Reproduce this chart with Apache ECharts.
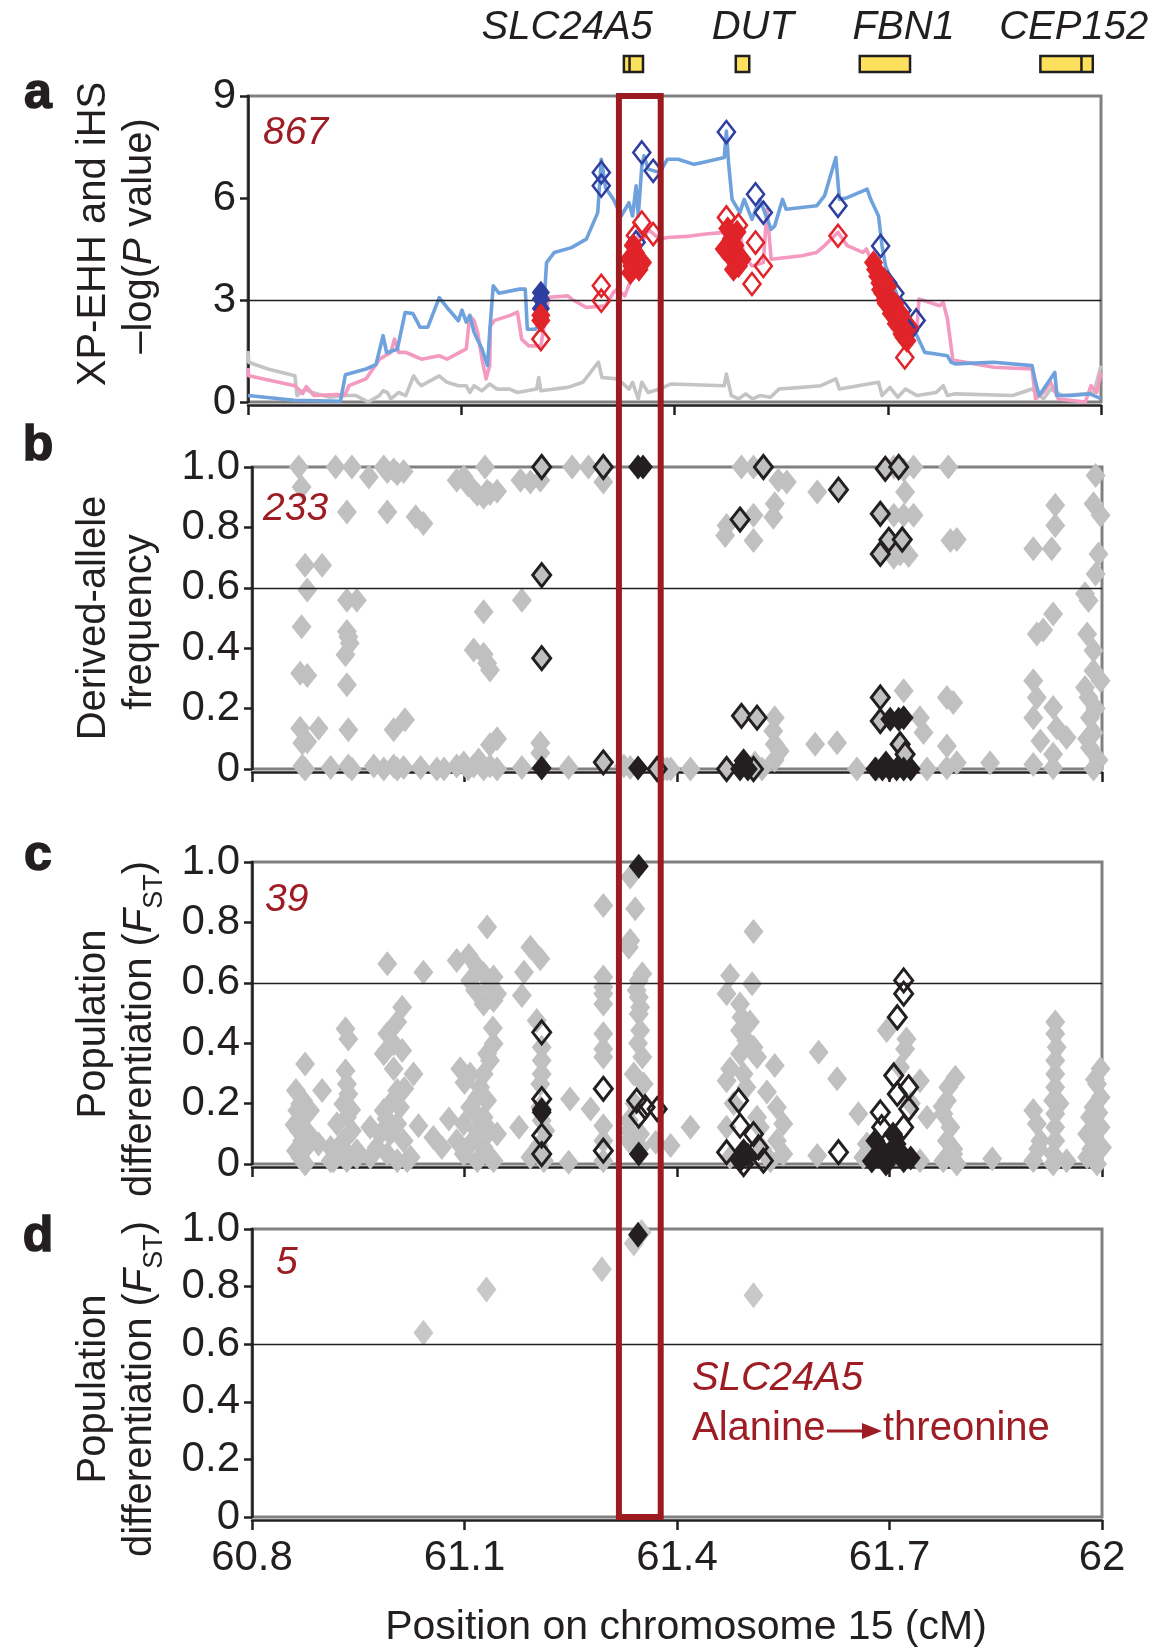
<!DOCTYPE html>
<html><head><meta charset="utf-8">
<script src="https://cdn.jsdelivr.net/npm/echarts@6/dist/echarts.min.js"></script>
<style>html,body{margin:0;padding:0;background:#fff}#c{width:1170px;height:1647px}</style>
</head><body><div id="c"></div>
<script>
const FONT = '"Liberation Sans", Arial, Helvetica, sans-serif';
const INK = '#231f20';
const DARKRED = '#9e1c23';

// ---- x range / ticks (cM) ----
const xMin = 60.8, xMax = 62, xStep = 0.3;
const highlightRange = [61.318, 61.377];

// ---- gene track ----
const geneNames = ['SLC24A5', 'DUT', 'FBN1', 'CEP152'];
const geneStart = [61.325, 61.483, 61.658, 61.913];
const geneEnd = [61.352, 61.502, 61.729, 61.987];
const geneDivider = [61.333, null, null, 61.971];
const geneLabelAt = [61.245, 61.507, 61.72, 61.96];

// ---- panel a: XP-EHH / iHS -log(P) ----
const blueLine = [[60.80,0.19],[60.865,0.05],[60.93,0.02],[60.937,0.8],[60.966,0.97],[60.98,1.1],[60.99,1.95],[60.995,1.45],[61.01,1.55],[61.021,2.63],[61.032,2.6],[61.042,2.2],[61.053,2.2],[61.069,3.07],[61.08,2.78],[61.096,2.39],[61.101,2.7],[61.107,2.35],[61.112,2.55],[61.118,2.05],[61.129,1.57],[61.137,1.07],[61.14,2.05],[61.145,3.42],[61.153,3.2],[61.182,3.32],[61.19,3.32],[61.193,2.14],[61.204,2.14],[61.215,2.4],[61.22,4.1],[61.231,4.4],[61.255,4.54],[61.276,4.79],[61.292,5.57],[61.297,7.14],[61.303,6.3],[61.314,5.96],[61.325,5.47],[61.336,5.86],[61.341,5.47],[61.346,6.36],[61.349,5.47],[61.354,6.94],[61.357,7.24],[61.363,6.85],[61.379,6.75],[61.39,7.14],[61.405,7.14],[61.4275,6.99],[61.438,7.04],[61.47,7.19],[61.473,7.97],[61.476,7.04],[61.481,5.96],[61.492,5.57],[61.498,5.96],[61.509,5.37],[61.52,5.96],[61.536,5.08],[61.541,5.18],[61.552,5.96],[61.557,5.67],[61.6,5.77],[61.611,6.06],[61.627,7.19],[61.632,5.96],[61.643,6.01],[61.671,6.26],[61.676,5.96],[61.687,5.47],[61.692,4.59],[61.697,4.0],[61.719,2.83],[61.73,2.24],[61.741,1.95],[61.752,1.46],[61.768,1.41],[61.784,1.36],[61.789,1.17],[61.795,1.12],[61.849,1.17],[61.903,1.07],[61.908,0.58],[61.913,0.19],[61.935,0.87],[61.938,0.19],[61.957,0.19],[61.984,0.24],[62.0,0.1]];
const pinkLine = [[60.8,1.0],[60.801,0.77],[60.866,0.48],[60.877,0.25],[60.882,0.45],[60.893,0.19],[60.925,0.22],[60.936,0.19],[60.942,0.48],[60.966,0.68],[60.985,1.26],[61.001,1.46],[61.006,1.85],[61.012,1.46],[61.022,1.46],[61.033,1.36],[61.044,1.26],[61.069,1.36],[61.08,1.26],[61.107,1.56],[61.112,2.54],[61.118,2.4],[61.123,2.05],[61.13,1.17],[61.135,0.68],[61.14,1.07],[61.141,2.24],[61.147,2.4],[61.168,2.54],[61.179,2.64],[61.185,1.85],[61.195,1.65],[61.212,1.65],[61.223,3.08],[61.25,3.12],[61.255,3.03],[61.276,2.78],[61.303,2.83],[61.314,3.22],[61.32,3.32],[61.33,3.12],[61.341,3.71],[61.346,4.3],[61.349,4.99],[61.357,4.79],[61.363,5.08],[61.379,4.79],[61.39,4.84],[61.417,4.87],[61.444,4.94],[61.47,4.99],[61.473,4.5],[61.476,4.6],[61.487,4.79],[61.492,4.99],[61.498,4.3],[61.509,4.0],[61.525,4.1],[61.53,5.67],[61.536,4.2],[61.579,4.3],[61.6,4.4],[61.611,4.6],[61.63,4.99],[61.643,4.6],[61.665,4.4],[61.67,4.5],[61.676,4.2],[61.687,4.0],[61.703,3.42],[61.719,2.83],[61.73,2.44],[61.741,2.14],[61.744,3.03],[61.773,2.83],[61.778,2.93],[61.784,2.44],[61.792,1.17],[61.795,1.22],[61.849,1.02],[61.903,0.97],[61.908,0.09],[61.919,0.28],[61.929,0.58],[61.94,0.09],[61.978,0.0],[61.986,0.48],[61.994,0.28],[62.0,0.87]];
const greyLine = [[60.8,1.5],[60.801,1.17],[60.828,0.97],[60.866,0.77],[60.869,0.19],[60.88,0.38],[60.89,0.28],[60.915,0.14],[60.936,0.19],[60.952,0.19],[60.969,0.0],[60.985,0.19],[60.99,0.33],[60.996,0.28],[61.001,0.09],[61.012,0.28],[61.022,0.19],[61.033,0.77],[61.039,0.58],[61.044,0.48],[61.069,0.77],[61.08,0.58],[61.096,0.48],[61.107,0.48],[61.112,0.28],[61.118,0.48],[61.129,0.33],[61.14,0.53],[61.15,0.38],[61.168,0.38],[61.179,0.28],[61.206,0.38],[61.209,0.72],[61.212,0.33],[61.25,0.43],[61.271,0.58],[61.293,1.17],[61.298,0.72],[61.32,0.68],[61.336,0.38],[61.341,0.58],[61.349,0.09],[61.354,0.58],[61.363,0.28],[61.379,0.38],[61.395,0.53],[61.47,0.48],[61.473,0.82],[61.48,0.19],[61.49,0.09],[61.5,0.24],[61.51,0.09],[61.52,0.19],[61.535,0.14],[61.547,0.38],[61.579,0.43],[61.606,0.48],[61.627,0.68],[61.632,0.38],[61.687,0.58],[61.692,0.19],[61.703,0.43],[61.714,0.14],[61.725,0.38],[61.741,0.19],[61.768,0.28],[61.778,0.48],[61.784,0.19],[61.795,0.24],[61.876,0.19],[61.903,0.38],[61.919,0.09],[61.929,0.38],[61.946,0.19],[61.978,0.24],[61.99,0.28],[62.0,1.07]];
const aBlueOpen = [[61.297,6.75],[61.297,6.36],[61.354,7.34],[61.37,6.8],[61.473,7.94],[61.514,6.11],[61.525,5.57],[61.63,5.77],[61.69,4.59],[61.346,4.7],[61.343,4.3],[61.48,4.5],[61.49,4.2],[61.70,3.5],[61.71,3.2],[61.72,2.7],[61.73,2.1],[61.74,2.4]];
const aBlueFilled = [[61.212,3.22],[61.212,3.03],[61.212,2.75]];
const aRedFilled = [[61.212,2.55],[61.212,2.4],[61.336,4.2],[61.34,4.0],[61.345,4.4],[61.35,3.9],[61.355,4.1],[61.342,4.6],[61.338,3.8],[61.475,5.1],[61.48,4.8],[61.485,4.6],[61.478,4.3],[61.49,4.0],[61.483,3.9],[61.495,4.2],[61.488,5.0],[61.47,4.5],[61.68,4.1],[61.683,3.9],[61.686,3.7],[61.689,3.5],[61.69,3.3],[61.693,3.2],[61.696,3.0],[61.698,2.9],[61.7,3.1],[61.703,2.8],[61.705,2.6],[61.708,2.7],[61.71,2.5],[61.712,2.3],[61.715,2.4],[61.717,2.2],[61.72,2.0],[61.723,1.9],[61.725,2.1],[61.727,1.8],[61.695,3.6],[61.7,3.4],[61.71,2.9],[61.718,2.6]];
const aRedOpen = [[61.297,3.42],[61.297,2.98],[61.354,5.28],[61.37,4.94],[61.473,5.43],[61.514,4.69],[61.525,4.0],[61.509,3.47],[61.63,4.89],[61.724,1.31],[61.212,1.85],[61.49,5.2],[61.73,2.2],[61.345,4.9]];

// ---- panel b: derived-allele frequency ----
const bGrey = [[60.866,1.0],[60.87,0.934],[60.918,1.0],[60.941,1.0],[60.965,0.967],[60.986,1.0],[60.991,0.985],[61.0,0.99],[61.005,0.978],[61.014,0.985],[61.089,0.956],[61.099,0.967],[61.105,0.94],[61.113,0.923],[61.118,0.91],[61.127,0.9],[61.132,0.92],[61.136,0.912],[61.146,0.92],[61.129,1.0],[61.179,0.956],[61.193,0.95],[61.207,0.956],[61.252,1.0],[61.275,1.0],[61.296,0.95],[60.934,0.851],[60.991,0.851],[61.031,0.835],[61.042,0.813],[60.875,0.675],[60.899,0.675],[60.878,0.593],[60.934,0.559],[60.948,0.559],[61.181,0.559],[61.127,0.521],[60.870,0.471],[60.934,0.455],[60.936,0.438],[60.938,0.416],[60.932,0.378],[61.113,0.394],[61.127,0.38],[61.132,0.35],[61.136,0.328],[60.868,0.317],[60.878,0.31],[60.934,0.279],[61.016,0.163],[60.868,0.135],[60.894,0.135],[60.936,0.13],[61.0,0.13],[60.871,0.086],[60.878,0.09],[61.136,0.08],[61.146,0.1],[61.207,0.086],[61.207,0.053],[60.871,0.01],[60.875,0.0],[60.911,0.005],[60.936,0.01],[60.941,0.0],[60.972,0.01],[60.986,0.0],[61.0,0.01],[61.005,0.0],[61.014,0.005],[61.038,0.005],[61.061,0.0],[61.071,0.0],[61.089,0.01],[61.099,0.02],[61.105,0.0],[61.113,0.01],[61.12,0.03],[61.127,0.0],[61.136,0.01],[61.146,0.0],[61.181,0.005],[61.247,0.005],[61.325,0.01],[61.334,0.005],[61.386,0.0],[61.491,1.0],[61.508,1.0],[61.543,0.956],[61.555,0.95],[61.598,0.917],[61.538,0.878],[61.536,0.834],[61.508,0.84],[61.47,0.806],[61.468,0.773],[61.508,0.757],[61.706,1.0],[61.72,0.99],[61.734,1.0],[61.783,1.0],[61.722,0.917],[61.706,0.84],[61.72,0.84],[61.734,0.84],[61.701,0.746],[61.715,0.712],[61.727,0.707],[61.706,0.701],[61.786,0.757],[61.795,0.76],[61.934,0.873],[61.934,0.806],[61.903,0.729],[61.929,0.729],[61.991,0.972],[61.988,0.878],[61.998,0.84],[61.995,0.712],[61.991,0.646],[61.976,0.58],[61.981,0.558],[61.931,0.513],[61.908,0.447],[61.917,0.46],[61.979,0.447],[61.988,0.392],[61.988,0.325],[61.998,0.292],[61.981,0.237],[61.903,0.292],[61.908,0.237],[61.931,0.204],[61.903,0.17],[61.936,0.137],[61.913,0.093],[61.95,0.104],[61.983,0.17],[61.988,0.12],[61.983,0.07],[61.995,0.03],[61.931,0.049],[61.903,0.015],[61.931,0.004],[61.988,0.0],[61.976,0.27],[61.991,0.2],[61.979,0.1],[61.72,0.259],[61.781,0.237],[61.79,0.22],[61.743,0.17],[61.748,0.121],[61.781,0.076],[61.538,0.17],[61.536,0.126],[61.538,0.082],[61.545,0.06],[61.538,0.03],[61.595,0.082],[61.626,0.087],[61.381,0.0],[61.391,0.0],[61.419,0.0],[61.654,0.0],[61.753,0.0],[61.781,0.004],[61.795,0.021],[61.842,0.021],[61.51,0.02],[61.52,0.0],[61.682,0.0]];
const bBlackOpen = [[61.209,1.0],[61.296,1.0],[61.209,0.642],[61.209,0.367],[61.296,0.022],[61.372,0.0],[61.522,1.0],[61.628,0.925],[61.489,0.826],[61.687,0.845],[61.694,0.994],[61.713,1.0],[61.699,0.759],[61.718,0.76],[61.687,0.712],[61.687,0.237],[61.491,0.176],[61.513,0.17],[61.687,0.159],[61.715,0.082],[61.722,0.049],[61.47,0.0],[61.508,0.0]];
const bBlackFilled = [[61.345,1.0],[61.352,1.0],[61.209,0.003],[61.345,0.003],[61.494,0.027],[61.489,0.0],[61.5,0.0],[61.701,0.165],[61.713,0.165],[61.72,0.17],[61.68,0.0],[61.69,0.0],[61.7,0.0],[61.71,0.0],[61.72,0.0],[61.73,0.0],[61.695,0.02]];

// ---- panel c: population differentiation (all SNPs) ----
const cGrey = [[60.862,0.243],[60.868,0.199],[60.864,0.177],[60.87,0.144],[60.866,0.11],[60.871,0.077],[60.862,0.044],[60.868,0.022],[60.875,0.0],[60.875,0.331],[60.882,0.177],[60.88,0.1],[60.899,0.243],[60.894,0.066],[60.911,0.055],[60.911,0.011],[60.878,0.06],[60.86,0.13],[60.872,0.21],[60.932,0.448],[60.936,0.414],[60.932,0.309],[60.934,0.265],[60.936,0.232],[60.929,0.199],[60.934,0.155],[60.92,0.133],[60.941,0.11],[60.929,0.077],[60.948,0.044],[60.934,0.011],[60.948,0.022],[60.915,0.011],[60.94,0.18],[60.926,0.06],[60.991,0.663],[61.012,0.519],[61.005,0.47],[60.991,0.431],[61.0,0.398],[60.986,0.365],[61.012,0.376],[61.0,0.315],[61.028,0.298],[61.005,0.243],[60.995,0.199],[60.986,0.177],[61.009,0.188],[60.967,0.122],[60.981,0.099],[60.995,0.099],[61.005,0.133],[61.014,0.077],[60.976,0.055],[60.991,0.033],[61.005,0.011],[61.019,0.011],[61.024,0.022],[60.967,0.022],[60.99,0.15],[61.015,0.25],[61.042,0.635],[61.035,0.127],[61.056,0.088],[61.068,0.055],[61.078,0.149],[61.132,0.785],[61.089,0.674],[61.106,0.69],[61.118,0.652],[61.127,0.63],[61.141,0.619],[61.108,0.608],[61.115,0.575],[61.136,0.586],[61.146,0.564],[61.127,0.53],[61.141,0.541],[61.141,0.398],[61.132,0.365],[61.136,0.343],[61.094,0.315],[61.108,0.298],[61.127,0.298],[61.122,0.254],[61.118,0.221],[61.132,0.21],[61.108,0.188],[61.127,0.155],[61.099,0.133],[61.118,0.11],[61.136,0.11],[61.146,0.099],[61.089,0.077],[61.108,0.066],[61.127,0.055],[61.136,0.022],[61.099,0.033],[61.118,0.011],[61.141,0.011],[61.1,0.27],[61.14,0.45],[61.115,0.17],[61.193,0.718],[61.207,0.68],[61.184,0.635],[61.181,0.558],[61.202,0.475],[61.209,0.387],[61.209,0.343],[61.209,0.298],[61.207,0.265],[61.207,0.188],[61.209,0.144],[61.214,0.11],[61.177,0.122],[61.193,0.022],[61.212,0.011],[61.205,0.06],[61.249,0.215],[61.247,0.006],[61.278,0.182],[61.296,0.856],[61.296,0.619],[61.296,0.586],[61.296,0.564],[61.296,0.53],[61.296,0.431],[61.296,0.381],[61.296,0.354],[61.296,0.127],[61.296,0.077],[61.296,0.011],[61.334,0.95],[61.341,0.845],[61.334,0.74],[61.332,0.718],[61.351,0.63],[61.346,0.608],[61.343,0.575],[61.346,0.552],[61.348,0.519],[61.346,0.497],[61.348,0.442],[61.351,0.354],[61.339,0.298],[61.353,0.265],[61.332,0.144],[61.332,0.11],[61.348,0.099],[61.332,0.077],[61.348,0.055],[61.34,0.2],[61.345,0.4],[61.37,0.072],[61.391,0.061],[61.419,0.122],[61.508,0.77],[61.475,0.624],[61.506,0.597],[61.47,0.564],[61.489,0.53],[61.491,0.486],[61.503,0.47],[61.489,0.442],[61.498,0.409],[61.508,0.387],[61.489,0.365],[61.513,0.354],[61.475,0.315],[61.494,0.298],[61.47,0.276],[61.498,0.254],[61.538,0.326],[61.527,0.238],[61.541,0.188],[61.55,0.133],[61.517,0.122],[61.47,0.122],[61.541,0.077],[61.55,0.033],[61.475,0.022],[61.532,0.011],[61.513,0.155],[61.48,0.2],[61.52,0.05],[61.6,0.37],[61.626,0.282],[61.656,0.166],[61.598,0.028],[61.696,0.442],[61.724,0.414],[61.722,0.381],[61.743,0.276],[61.753,0.155],[61.743,0.011],[61.668,0.066],[61.663,0.022],[61.715,0.32],[61.73,0.2],[61.793,0.287],[61.783,0.254],[61.781,0.21],[61.776,0.166],[61.786,0.122],[61.781,0.077],[61.79,0.033],[61.776,0.011],[61.795,0.0],[61.775,0.19],[61.79,0.05],[61.845,0.017],[61.934,0.47],[61.934,0.431],[61.936,0.387],[61.934,0.343],[61.934,0.298],[61.934,0.254],[61.931,0.21],[61.934,0.166],[61.934,0.122],[61.934,0.077],[61.931,0.033],[61.931,0.0],[61.903,0.177],[61.908,0.133],[61.913,0.077],[61.903,0.011],[61.95,0.011],[61.91,0.05],[61.94,0.2],[61.998,0.315],[61.993,0.265],[61.998,0.221],[61.988,0.188],[61.983,0.155],[61.998,0.122],[61.979,0.099],[61.988,0.077],[62.0,0.055],[61.979,0.022],[61.993,0.0],[61.985,0.05],[61.995,0.17],[61.99,0.28]];
const cBlackOpen = [[61.209,0.436],[61.209,0.215],[61.209,0.094],[61.209,0.033],[61.296,0.249],[61.296,0.044],[61.343,0.21],[61.346,0.16],[61.355,0.188],[61.372,0.182],[61.487,0.21],[61.489,0.127],[61.508,0.099],[61.515,0.055],[61.47,0.039],[61.522,0.011],[61.494,0.0],[61.628,0.039],[61.72,0.608],[61.72,0.564],[61.711,0.486],[61.706,0.293],[61.727,0.254],[61.711,0.232],[61.687,0.171],[61.727,0.182],[61.72,0.122],[61.689,0.122]];
const cBlackFilled = [[61.209,0.171],[61.209,0.18],[61.346,0.986],[61.346,0.033],[61.494,0.044],[61.489,0.011],[61.5,0.03],[61.68,0.077],[61.69,0.044],[61.7,0.022],[61.71,0.066],[61.72,0.011],[61.695,0.0],[61.705,0.099],[61.685,0.03],[61.715,0.04],[61.73,0.02],[61.675,0.01]];

// ---- panel d: population differentiation (non-synonymous) ----
const dGrey = [[61.042,0.64],[61.131,0.79],[61.294,0.86],[61.339,0.95],[61.35,0.99],[61.508,0.77]];
const dBlack = [[61.345,0.98]];

// ---- annotations ----
const panelLetters = ['a', 'b', 'c', 'd'];
const panelCounts = ['867', '233', '39', '5'];
const refLines = [3, 0.6, 0.6, 0.6];

const chart = echarts.init(document.getElementById('c'), null, {renderer: 'canvas'});

const grids = [
  {left: 252, width: 850, top: 56, height: 16},
  {left: 248, width: 853, top: 96, height: 306},
  {left: 252, width: 850, top: 467, height: 302},
  {left: 252, width: 850, top: 862, height: 302},
  {left: 252, width: 850, top: 1229, height: 288}
].map((g, i) => Object.assign({show: i > 0, borderColor: '#808080', borderWidth: 3, backgroundColor: 'transparent', z: 0}, g));

const xAxes = grids.map((g, i) => ({
  type: 'value', gridIndex: i, min: xMin, max: xMax, interval: xStep, show: i > 0, z: 3,
  offset: 3,
  axisLine: {show: true, onZero: false, lineStyle: {color: INK, width: 2.5}},
  axisTick: {show: true, length: 10, lineStyle: {color: INK, width: 2.5}},
  axisLabel: {show: i === 4, fontSize: 42, fontFamily: FONT, color: INK, margin: 17,
    formatter: v => Math.abs(v - 62) < 1e-6 ? '62' : v.toFixed(1)},
  splitLine: {show: false}
}));

const yAxes = grids.map((g, i) => {
  const isA = i === 1;
  return {
    type: 'value', gridIndex: i, show: i > 0, z: 3,
    min: 0, max: i === 0 ? 1 : (isA ? 9 : 1), interval: isA ? 3 : 0.2,
    axisLine: {show: true, onZero: false, lineStyle: {color: INK, width: 2.5}},
    axisTick: {show: true, length: 8, lineStyle: {color: INK, width: 2.5}},
    axisLabel: {fontSize: 42, fontFamily: FONT, color: INK, margin: 12,
      formatter: v => isA ? String(Math.round(v)) : (v === 0 ? '0' : v.toFixed(1))},
    splitLine: {show: false}
  };
});

function refLine(value) {
  return {silent: true, symbol: 'none', animation: false, label: {show: false},
    lineStyle: {color: INK, width: 1.3, type: 'solid', opacity: 1}, emphasis: {disabled: true},
    data: [{yAxis: value}]};
}
function scatter(idx, data, opts) {
  const s = Object.assign({
    type: 'scatter', xAxisIndex: idx, yAxisIndex: idx, data: data, symbol: 'diamond',
    clip: false, silent: true, z: 5, emphasis: {disabled: true}
  }, opts);
  s.itemStyle = Object.assign({opacity: 1}, s.itemStyle);
  return s;
}
function line(data, color) {
  return {type: 'line', xAxisIndex: 1, yAxisIndex: 1, data: data, showSymbol: false, symbol: 'none',
    silent: true, z: 4, lineStyle: {color: color, width: 3.6, opacity: 1, join: 'round'}, emphasis: {disabled: true}};
}

const series = [
  {
    type: 'custom', xAxisIndex: 0, yAxisIndex: 0, clip: false, silent: true, z: 5,
    data: geneNames.map((n, i) => [geneStart[i], geneEnd[i], 0]),
    encode: {x: [0, 1], y: 2},
    renderItem: (params, api) => {
      const i = params.dataIndex;
      const p0 = api.coord([geneStart[i], 1]);
      const p1 = api.coord([geneEnd[i], 0]);
      const children = [{type: 'rect', shape: {x: p0[0], y: p0[1], width: p1[0] - p0[0], height: p1[1] - p0[1]},
        style: {fill: '#fde05c', stroke: INK, lineWidth: 2.5}}];
      if (geneDivider[i] != null) {
        const d = api.coord([geneDivider[i], 0]);
        children.push({type: 'line', shape: {x1: d[0], y1: p0[1], x2: d[0], y2: p1[1]}, style: {stroke: INK, lineWidth: 2.5}});
      }
      const t = api.coord([geneLabelAt[i], 1]);
      children.push({type: 'text', x: t[0], y: p0[1] - 28,
        style: {text: geneNames[i], font: 'italic 40px ' + FONT, fill: INK, align: 'center', verticalAlign: 'middle'}});
      return {type: 'group', children: children};
    }
  },
  line(greyLine, '#c4c4c4'),
  line(pinkLine, '#f49ac1'),
  Object.assign(line(blueLine, '#6fa2dc'), {markLine: refLine(refLines[0])}),
  scatter(1, aBlueOpen, {symbolSize: [17, 22], itemStyle: {color: 'rgba(255,255,255,0)', borderColor: '#2e3f9f', borderWidth: 2.6}}),
  scatter(1, aBlueFilled, {symbolSize: [17, 22], itemStyle: {color: '#2e3f9f', borderColor: '#2e3f9f', borderWidth: 1}}),
  scatter(1, aRedFilled, {symbolSize: [18, 23], itemStyle: {color: '#e0242a', borderColor: '#e0242a', borderWidth: 1}}),
  scatter(1, aRedOpen, {symbolSize: [17, 22], itemStyle: {color: 'rgba(255,255,255,0)', borderColor: '#e0242a', borderWidth: 2.6}}),

  scatter(2, bGrey, {symbolSize: [20, 25], itemStyle: {color: '#c0c0c0'}, markLine: refLine(refLines[1]), z: 4}),
  scatter(2, bBlackOpen, {symbolSize: [18, 23], itemStyle: {color: '#c0c0c0', borderColor: INK, borderWidth: 3}}),
  scatter(2, bBlackFilled, {symbolSize: [20, 25], itemStyle: {color: INK}}),

  scatter(3, cGrey, {symbolSize: [20, 25], itemStyle: {color: '#c0c0c0'}, markLine: refLine(refLines[2]), z: 4}),
  scatter(3, cBlackOpen, {symbolSize: [18, 23], itemStyle: {color: 'rgba(255,255,255,0)', borderColor: INK, borderWidth: 3}}),
  scatter(3, cBlackFilled, {symbolSize: [20, 25], itemStyle: {color: INK}}),

  scatter(4, dGrey, {symbolSize: [20, 26], itemStyle: {color: '#c8c8c8'}, markLine: refLine(refLines[3]), z: 4}),
  scatter(4, dBlack, {symbolSize: [20, 26], itemStyle: {color: INK}})
];

chart.setOption({
  animation: false,
  backgroundColor: '#ffffff',
  grid: grids, xAxis: xAxes, yAxis: yAxes, series: series
});

// ---------- graphic annotations ----------
const hx0 = chart.convertToPixel({xAxisIndex: 2}, highlightRange[0]);
const hx1 = chart.convertToPixel({xAxisIndex: 2}, highlightRange[1]);
const hy0 = chart.convertToPixel({yAxisIndex: 1}, 9);
const hy1 = chart.convertToPixel({yAxisIndex: 4}, 0);

const letterY = [94, 446, 856, 1237];
const countPos = [[263, 133], [263, 509], [265, 900], [276, 1263]];
const base = {fontSize: 40, fontFamily: FONT, fill: INK};
function vtext(x, y, text, rich) {
  return {type: 'text', x: x, y: y, rotation: Math.PI / 2, z: 50,
    style: Object.assign({text: text, align: 'center', verticalAlign: 'middle', lineHeight: 48, rich: rich || {}}, base)};
}
const richP = {i: Object.assign({fontStyle: 'italic', lineHeight: 48}, base)};
const richF = {
  i: Object.assign({fontStyle: 'italic', lineHeight: 48}, base),
  s: {fontSize: 27, fontFamily: FONT, fill: INK, lineHeight: 27, verticalAlign: 'bottom', padding: [0, 0, -4, 0]}
};

const graphics = [];
panelLetters.forEach((l, i) => {
  graphics.push({type: 'text', x: 38, y: letterY[i], z: 50,
    style: {text: l, font: 'bold 50px ' + FONT, fill: INK, stroke: INK, lineWidth: 1.5, align: 'center', verticalAlign: 'middle'}});
  graphics.push({type: 'text', x: countPos[i][0], y: countPos[i][1], z: 50,
    style: {text: panelCounts[i], font: 'italic 39px ' + FONT, fill: DARKRED, align: 'left', verticalAlign: 'middle'}});
});
graphics.push(vtext(94, 234, 'XP-EHH and iHS'));
graphics.push(vtext(140, 236, '\u2013log({i|P} value)', richP));
graphics.push(vtext(94, 618, 'Derived-allele'));
graphics.push(vtext(140, 622, 'frequency'));
graphics.push(vtext(94, 1024, 'Population'));
graphics.push(vtext(140, 1029, 'differentiation ({i|F}{s|ST})', richF));
graphics.push(vtext(94, 1389, 'Population'));
graphics.push(vtext(140, 1389, 'differentiation ({i|F}{s|ST})', richF));
graphics.push({type: 'text', x: 686, y: 1628, z: 50,
  style: {text: 'Position on chromosome 15 (cM)', fontSize: 41, fontFamily: FONT, fill: INK, align: 'center', verticalAlign: 'middle'}});
// SLC24A5 annotation in panel d
graphics.push({type: 'text', x: 692, y: 1379, z: 50,
  style: {text: 'SLC24A5', font: 'italic 40px ' + FONT, fill: DARKRED, align: 'left', verticalAlign: 'middle'}});
graphics.push({type: 'text', x: 692, y: 1429, z: 50,
  style: {text: 'Alanine', fontSize: 40, fontFamily: FONT, fill: DARKRED, align: 'left', verticalAlign: 'middle'}});
graphics.push({type: 'line', z: 50, shape: {x1: 827, y1: 1431, x2: 866, y2: 1431}, style: {stroke: DARKRED, lineWidth: 3}});
graphics.push({type: 'polygon', z: 50, shape: {points: [[862, 1423], [882, 1431], [862, 1439]]}, style: {fill: DARKRED}});
graphics.push({type: 'text', x: 883, y: 1429, z: 50,
  style: {text: 'threonine', fontSize: 40, fontFamily: FONT, fill: DARKRED, align: 'left', verticalAlign: 'middle'}});
// highlight rectangle around the SLC24A5 window
graphics.push({type: 'rect', z: 100,
  shape: {x: hx0, y: hy0, width: hx1 - hx0, height: hy1 - hy0},
  style: {fill: 'none', stroke: '#9b1b21', lineWidth: 6}});

chart.setOption({graphic: graphics});
</script>
</body></html>
